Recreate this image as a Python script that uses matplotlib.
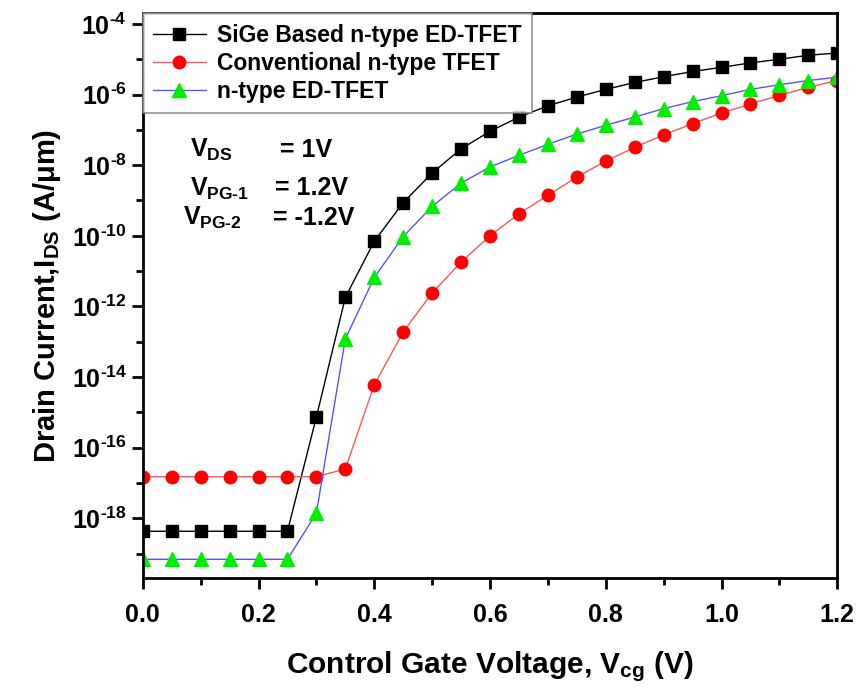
import matplotlib
matplotlib.use('Agg')
import matplotlib.pyplot as plt
from matplotlib.ticker import FixedLocator, FixedFormatter, NullFormatter
import numpy as np

plt.rcParams['font.family'] = ['Liberation Sans', 'DejaVu Sans']
plt.rcParams['font.weight'] = 'bold'
plt.rcParams['mathtext.fontset'] = 'custom'
plt.rcParams['mathtext.rm'] = 'Liberation Sans:bold'
plt.rcParams['mathtext.it'] = 'Liberation Sans:bold'
plt.rcParams['mathtext.bf'] = 'Liberation Sans:bold'

# control gate voltage (V)
vcg = [0.0, 0.05, 0.1, 0.15, 0.2, 0.25, 0.3, 0.35, 0.4, 0.45, 0.5, 0.55, 0.6,
       0.65, 0.7, 0.75, 0.8, 0.85, 0.9, 0.95, 1.0, 1.05, 1.1, 1.15, 1.2]

# drain current (A/um)
ids_sige = [4.3e-19, 4.3e-19, 4.3e-19, 4.3e-19, 4.3e-19, 4.3e-19, 7.4e-16, 1.8e-12,
            7.0e-11, 8.7e-10, 6.0e-9, 2.9e-8, 9.1e-8, 2.3e-7, 4.8e-7, 8.5e-7,
            1.4e-6, 2.2e-6, 3.2e-6, 4.5e-6, 5.9e-6, 7.9e-6, 1.0e-5, 1.3e-5, 1.5e-5]
ids_conv = [1.5e-17, 1.5e-17, 1.5e-17, 1.5e-17, 1.5e-17, 1.5e-17, 1.5e-17, 2.5e-17,
            6.0e-15, 1.9e-13, 2.4e-12, 1.8e-11, 1.0e-10, 4.2e-10, 1.4e-9, 4.6e-9,
            1.3e-8, 3.2e-8, 7.2e-8, 1.5e-7, 3.0e-7, 5.4e-7, 9.5e-7, 1.6e-6, 2.5e-6]
ids_ed = [6.9e-20, 6.9e-20, 6.9e-20, 6.9e-20, 6.9e-20, 6.9e-20, 1.4e-18, 1.2e-13,
          6.6e-12, 9.5e-11, 6.8e-10, 3.1e-9, 8.9e-9, 1.9e-8, 3.9e-8, 7.6e-8,
          1.35e-7, 2.3e-7, 4.0e-7, 6.3e-7, 9.3e-7, 1.4e-6, 1.9e-6, 2.5e-6, 3.1e-6]

labels = ['SiGe Based n-type ED-TFET', 'Conventional n-type TFET', 'n-type ED-TFET']

x_ticks = [0.0, 0.2, 0.4, 0.6, 0.8, 1.0, 1.2]
y_major_exp = [-18, -16, -14, -12, -10, -8, -6, -4]
y_minor_exp = [-19, -17, -15, -13, -11, -9, -7, -5]

fig = plt.figure(figsize=(8.6, 6.86), dpi=100)
ax = fig.add_axes([0.166, 0.157, 0.8076, 0.8236])

ax.plot(vcg, ids_sige, color='black', linewidth=1, marker='s', markersize=8,
        markerfacecolor='black', markeredgecolor='black', label=labels[0])
ax.plot(vcg, ids_conv, color='#ff5555', linewidth=1, marker='o', markersize=9,
        markerfacecolor='red', markeredgecolor='red', label=labels[1])
ax.plot(vcg, ids_ed, color='#5555ff', linewidth=1, marker='^', markersize=10,
        markerfacecolor='#00ee00', markeredgecolor='#00ee00', label=labels[2])

ax.set_yscale('log')
ax.set_xlim(0, 1.2)
ax.set_ylim(2e-20, 2e-4)

ax.set_xticks(x_ticks)
ax.set_xticklabels(['%.1f' % v for v in x_ticks])
ax.xaxis.set_minor_locator(FixedLocator([0.1, 0.3, 0.5, 0.7, 0.9, 1.1]))
ax.yaxis.set_major_locator(FixedLocator([10.0 ** e for e in y_major_exp]))
ax.yaxis.set_major_formatter(FixedFormatter([r'$10^{\text{%d}}$' % e for e in y_major_exp]))
ax.yaxis.set_minor_locator(FixedLocator([10.0 ** e for e in y_minor_exp]))
ax.yaxis.set_minor_formatter(NullFormatter())

ax.tick_params(which='major', direction='out', length=8, width=2, labelsize=18)
ax.tick_params(axis='x', which='major', pad=10)
ax.tick_params(which='minor', direction='out', length=5, width=2)
ax.tick_params(top=False, right=False, which='both')
for s in ax.spines.values():
    s.set_linewidth(2)

ax.set_xlabel(r'Control Gate Voltage, V$_{cg}$ (V)', fontsize=21.5, fontweight='bold', labelpad=16)
ax.set_ylabel(r'Drain Current,I$_{DS}$ (A/μm)', fontsize=21, fontweight='bold', labelpad=6)

leg = ax.legend(loc='upper left', borderaxespad=0, fancybox=False, fontsize=16.5,
                numpoints=1, handlelength=2.3, labelspacing=0.22, borderpad=0.45,
                handletextpad=0.5)
leg.get_frame().set_edgecolor('#777777')
leg.get_frame().set_linewidth(1.2)

ax.text(0.068, 0.758, r'$V_{DS}$', transform=ax.transAxes, fontsize=18, va='center')
ax.text(0.197, 0.758, '= 1V', transform=ax.transAxes, fontsize=18, va='center')
ax.text(0.068, 0.690, r'$V_{PG\text{-}1}$', transform=ax.transAxes, fontsize=18, va='center')
ax.text(0.190, 0.690, '= 1.2V', transform=ax.transAxes, fontsize=18, va='center')
ax.text(0.058, 0.637, r'$V_{PG\text{-}2}$', transform=ax.transAxes, fontsize=18, va='center')
ax.text(0.188, 0.637, '= -1.2V', transform=ax.transAxes, fontsize=18, va='center')

fig.savefig('out.png', dpi=100)
